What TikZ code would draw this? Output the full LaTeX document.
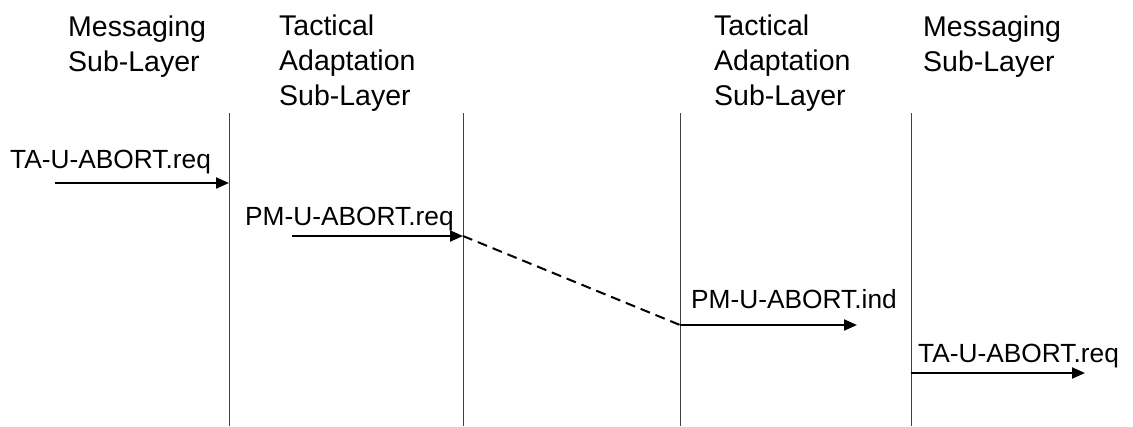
\documentclass[tikz,border=0pt]{standalone}
\usepackage{fontspec}
\setmainfont{Liberation Sans}
\usetikzlibrary{arrows.meta}
\begin{document}
\begin{tikzpicture}[x=1pt,y=-1pt,
  header/.style={anchor=north west,inner sep=0pt,align=left,
    font=\fontsize{28.5}{35}\selectfont},
  msglabel/.style={anchor=base west,inner sep=0pt,
    font=\fontsize{26.3}{30}\selectfont},
  lifeline/.style={line width=1pt,black!75},
  msg/.style={line width=2.2pt,-{Triangle[length=13pt,width=11pt]}},
  relay/.style={line width=2pt,dash pattern=on 10pt off 6pt}]
\useasboundingbox (0,0) rectangle (1133,426);

% layer headings
\node[header] (h1) at (68,15.5) {Messaging\\Sub-Layer};
\node[header] (h2) at (279,14.5) {Tactical\\Adaptation\\Sub-Layer};
\node[header] (h3) at (714,14.5) {Tactical\\Adaptation\\Sub-Layer};
\node[header] (h4) at (923,15.5) {Messaging\\Sub-Layer};

% lifelines
\coordinate (l1t) at (229,113); \coordinate (l1b) at (229,426);
\coordinate (l2t) at (463,113); \coordinate (l2b) at (463,426);
\coordinate (l3t) at (680,113); \coordinate (l3b) at (680,426);
\coordinate (l4t) at (911,113); \coordinate (l4b) at (911,426);
\draw[lifeline] (l1t) -- (l1b);
\draw[lifeline] (l2t) -- (l2b);
\draw[lifeline] (l3t) -- (l3b);
\draw[lifeline] (l4t) -- (l4b);

% primitive exchange
\coordinate (a1s) at (55,183);  \coordinate (a1e) at (229,183);
\coordinate (a2s) at (292,236); \coordinate (a2e) at (463,236);
\coordinate (a3s) at (680,325); \coordinate (a3e) at (857,325);
\coordinate (a4s) at (911,373); \coordinate (a4e) at (1085,373);

\node[msglabel] (t1) at (10,168) {TA-U-ABORT.req};
\node[msglabel] (t2) at (245,225) {PM-U-ABORT.req};
\node[msglabel] (t3) at (691,308) {PM-U-ABORT.ind};
\node[msglabel] (t4) at (918,362) {TA-U-ABORT.req};

\draw[msg] (a1s) -- (a1e);
\draw[msg] (a2s) -- (a2e);
\draw[relay] (a2e) -- (a3s);
\draw[msg] (a3s) -- (a3e);
\draw[msg] (a4s) -- (a4e);
\end{tikzpicture}
\end{document}
